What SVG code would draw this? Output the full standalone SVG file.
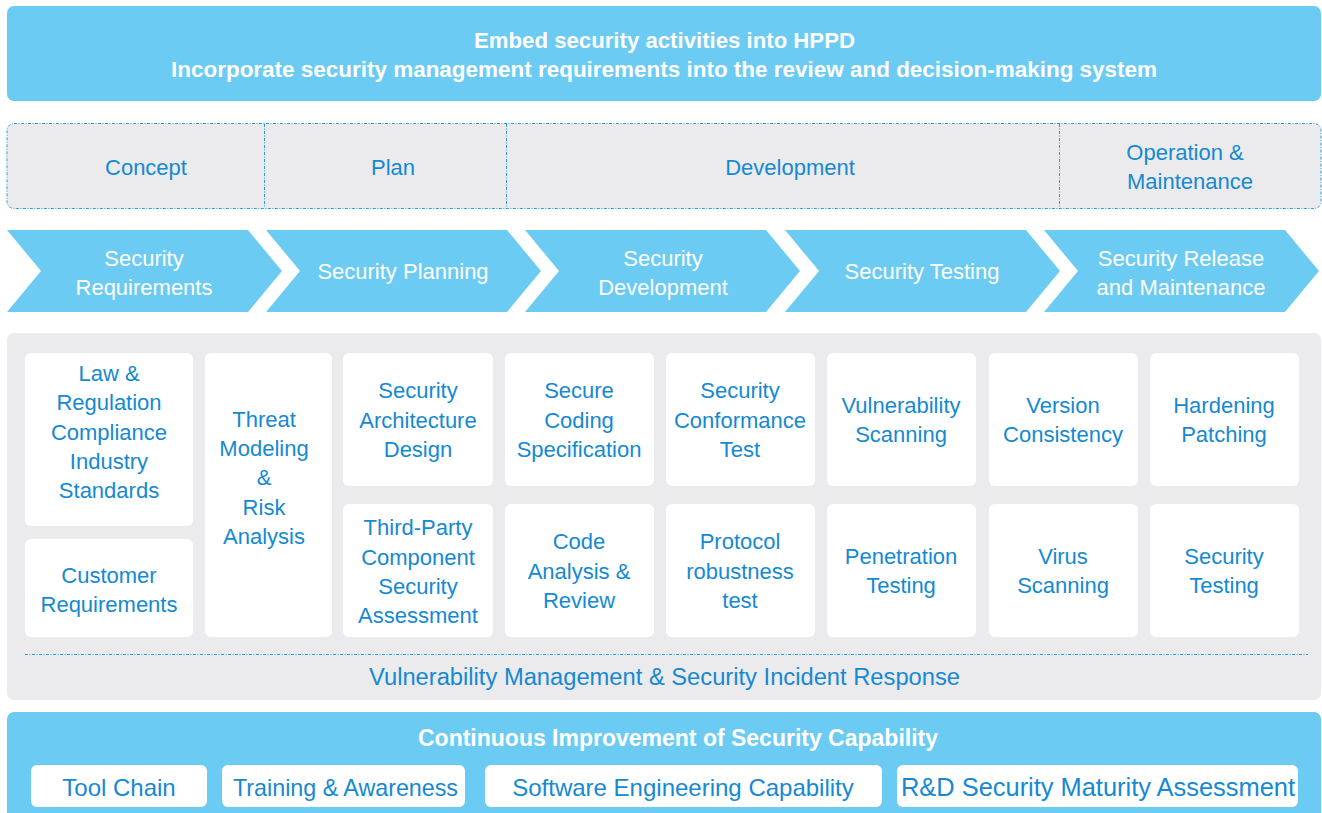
<svg xmlns="http://www.w3.org/2000/svg" width="1322" height="813" viewBox="0 0 1322 813">
<style>
.banner{fill:#6ccbf3}
.panel{fill:#ebebed}
.box{fill:#ffffff}
.chev{fill:#6ccbf3}
text{font-family:"Liberation Sans",Arial,sans-serif;text-anchor:middle;dominant-baseline:central}
.wt{fill:#ffffff;font-weight:bold;font-size:22.3px}
.ph{fill:#1589d2;font-size:22px}
.cv{fill:#ffffff;font-size:22px}
.bx{fill:#1589d2;font-size:22px}
.bt{fill:#1589d2;font-size:24px}
.dash{stroke:#2b9be0;stroke-width:1;fill:none;stroke-dasharray:3 1.5 1 1.5}
</style>
<rect width="1322" height="813" fill="#ffffff"/>
<g id="top-banner">
<rect class="banner" x="7" y="6" width="1314" height="95" rx="7"/>
<text class="wt" x="664.5" y="40" textLength="381" lengthAdjust="spacingAndGlyphs">Embed security activities into HPPD</text>
<text class="wt" x="664" y="69" textLength="986" lengthAdjust="spacingAndGlyphs">Incorporate security management requirements into the review and decision-making system</text>
</g>
<g id="phases">
<rect class="panel" x="7" y="123.5" width="1314" height="85" rx="7"/>
<rect class="dash" x="7" y="123.5" width="1314" height="85" rx="7"/>
<line class="dash" x1="264.5" y1="124" x2="264.5" y2="208"/>
<line class="dash" x1="506.5" y1="124" x2="506.5" y2="208"/>
<line class="dash" x1="1059.5" y1="124" x2="1059.5" y2="208"/>
<text class="ph" x="146" y="167">Concept</text>
<text class="ph" x="393" y="167">Plan</text>
<text class="ph" x="790" y="167">Development</text>
<text class="ph" x="1185" y="152">Operation &amp;</text>
<text class="ph" x="1190" y="181">Maintenance</text>
</g>
<g id="chevrons">
<g id="chev-req">
<path class="chev" d="M7 230 H248 L282 271 L248 312 H7 L41 271 Z"/>
<text class="cv" x="144" y="258">Security</text>
<text class="cv" x="144" y="287">Requirements</text>
</g>
<g id="chev-plan">
<path class="chev" d="M266 230 H507 L541 271 L507 312 H266 L300 271 Z"/>
<text class="cv" x="403" y="271">Security Planning</text>
</g>
<g id="chev-dev">
<path class="chev" d="M525 230 H766 L800 271 L766 312 H525 L559 271 Z"/>
<text class="cv" x="663" y="258">Security</text>
<text class="cv" x="663" y="287">Development</text>
</g>
<g id="chev-test">
<path class="chev" d="M785 230 H1026 L1060 271 L1026 312 H785 L819 271 Z"/>
<text class="cv" x="922" y="271">Security Testing</text>
</g>
<g id="chev-rel">
<path class="chev" d="M1044 230 H1285 L1319 271 L1285 312 H1044 L1078 271 Z"/>
<text class="cv" x="1181" y="258">Security Release</text>
<text class="cv" x="1181" y="287">and Maintenance</text>
</g>
</g>
<g id="activities">
<rect class="panel" x="7" y="333" width="1314" height="367" rx="7"/>
<g id="law">
<rect class="box" x="25" y="353" width="168" height="173" rx="6"/>
<text class="bx" x="109" y="373">Law &amp;</text>
<text class="bx" x="109" y="402">Regulation</text>
<text class="bx" x="109" y="432">Compliance</text>
<text class="bx" x="109" y="461">Industry</text>
<text class="bx" x="109" y="490">Standards</text>
</g>
<g id="customer">
<rect class="box" x="25" y="539" width="168" height="98" rx="6"/>
<text class="bx" x="109" y="575">Customer</text>
<text class="bx" x="109" y="604">Requirements</text>
</g>
<g id="threat">
<rect class="box" x="205" y="353" width="127" height="284" rx="6"/>
<text class="bx" x="264" y="419">Threat</text>
<text class="bx" x="264" y="448">Modeling</text>
<text class="bx" x="264" y="477">&amp;</text>
<text class="bx" x="264" y="507">Risk</text>
<text class="bx" x="264" y="536">Analysis</text>
</g>
<g id="arch">
<rect class="box" x="343" y="353" width="150" height="133" rx="6"/>
<text class="bx" x="418" y="390">Security</text>
<text class="bx" x="418" y="420">Architecture</text>
<text class="bx" x="418" y="449">Design</text>
</g>
<g id="thirdparty">
<rect class="box" x="343" y="504" width="150" height="133" rx="6"/>
<text class="bx" x="418" y="527">Third-Party</text>
<text class="bx" x="418" y="557">Component</text>
<text class="bx" x="418" y="586">Security</text>
<text class="bx" x="418" y="615">Assessment</text>
</g>
<g id="coding">
<rect class="box" x="505" y="353" width="149" height="133" rx="6"/>
<text class="bx" x="579" y="390">Secure</text>
<text class="bx" x="579" y="420">Coding</text>
<text class="bx" x="579" y="449">Specification</text>
</g>
<g id="codeanalysis">
<rect class="box" x="505" y="504" width="149" height="133" rx="6"/>
<text class="bx" x="579" y="541">Code</text>
<text class="bx" x="579" y="571">Analysis &amp;</text>
<text class="bx" x="579" y="600">Review</text>
</g>
<g id="conformance">
<rect class="box" x="666" y="353" width="149" height="133" rx="6"/>
<text class="bx" x="740" y="390">Security</text>
<text class="bx" x="740" y="420">Conformance</text>
<text class="bx" x="740" y="449">Test</text>
</g>
<g id="protocol">
<rect class="box" x="666" y="504" width="149" height="133" rx="6"/>
<text class="bx" x="740" y="541">Protocol</text>
<text class="bx" x="740" y="571">robustness</text>
<text class="bx" x="740" y="600">test</text>
</g>
<g id="vulnscan">
<rect class="box" x="827" y="353" width="149" height="133" rx="6"/>
<text class="bx" x="901" y="405">Vulnerability</text>
<text class="bx" x="901" y="434">Scanning</text>
</g>
<g id="pentest">
<rect class="box" x="827" y="504" width="149" height="133" rx="6"/>
<text class="bx" x="901" y="556">Penetration</text>
<text class="bx" x="901" y="585">Testing</text>
</g>
<g id="version">
<rect class="box" x="989" y="353" width="149" height="133" rx="6"/>
<text class="bx" x="1063" y="405">Version</text>
<text class="bx" x="1063" y="434">Consistency</text>
</g>
<g id="virus">
<rect class="box" x="989" y="504" width="149" height="133" rx="6"/>
<text class="bx" x="1063" y="556">Virus</text>
<text class="bx" x="1063" y="585">Scanning</text>
</g>
<g id="hardening">
<rect class="box" x="1150" y="353" width="149" height="133" rx="6"/>
<text class="bx" x="1224" y="405">Hardening</text>
<text class="bx" x="1224" y="434">Patching</text>
</g>
<g id="sectesting">
<rect class="box" x="1150" y="504" width="149" height="133" rx="6"/>
<text class="bx" x="1224" y="556">Security</text>
<text class="bx" x="1224" y="585">Testing</text>
</g>
<line class="dash" x1="25" y1="654.5" x2="1308" y2="654.5"/>
<text class="bx" x="664.5" y="677" style="font-size:23px" textLength="591" lengthAdjust="spacingAndGlyphs">Vulnerability Management &amp; Security Incident Response</text>
</g>
<g id="improvement">
<rect class="banner" x="7" y="712" width="1314" height="110" rx="7"/>
<text class="wt" x="678" y="738" style="font-size:23px" textLength="520" lengthAdjust="spacingAndGlyphs">Continuous Improvement of Security Capability</text>
<g id="toolchain">
<rect class="box" x="31" y="765" width="176" height="42" rx="6"/>
<text class="bt" x="119" y="787">Tool Chain</text>
</g>
<g id="training">
<rect class="box" x="222" y="765" width="243" height="42" rx="6"/>
<text class="bt" x="345.5" y="787" textLength="225" lengthAdjust="spacingAndGlyphs">Training &amp; Awareness</text>
</g>
<g id="software">
<rect class="box" x="485" y="765" width="397" height="42" rx="6"/>
<text class="bt" x="683" y="787">Software Engineering Capability</text>
</g>
<g id="maturity">
<rect class="box" x="897" y="765" width="401" height="42" rx="6"/>
<text class="bt" x="1098" y="787" style="font-size:25px" textLength="394" lengthAdjust="spacingAndGlyphs">R&amp;D Security Maturity Assessment</text>
</g>
</g>
</svg>
